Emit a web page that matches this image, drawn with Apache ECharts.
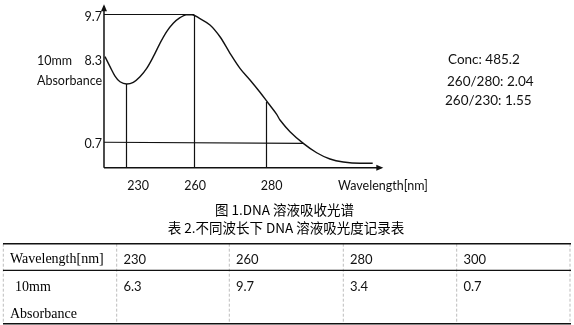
<!DOCTYPE html>
<html>
<head>
<meta charset="utf-8">
<script src="https://cdn.jsdelivr.net/npm/echarts@6/dist/echarts.min.js"></script>
<style>
  html, body { margin: 0; padding: 0; background: #fff; }
  #chart { width: 574px; height: 325px; }
</style>
</head>
<body>
<div id="chart"></div>
<script>
// ---- Sketch curve (schematic spectrum, horizontal position 0-100 along sketch axis, vertical in absorbance-like units)
const curveX = [0.36, 2.18, 3.99, 5.80, 8.23, 10.62, 13.05, 15.48, 17.88, 20.30, 22.73, 25.11, 27.56, 29.73, 31.91, 34.22, 38.43, 42.06, 45.69, 49.31, 52.94, 56.56, 59.57, 62.62, 63.81, 67.44, 72.26, 77.12, 81.94, 86.77, 92.82, 97.43];
const curveY = [6.75, 6.05, 5.39, 4.99, 4.83, 4.95, 5.34, 5.93, 6.75, 7.69, 8.51, 9.10, 9.49, 9.69, 9.70, 9.49, 8.98, 8.15, 6.99, 5.93, 5.11, 4.25, 3.48, 2.70, 2.30, 1.48, 0.66, 0.00, -0.44, -0.65, -0.74, -0.74];

// ---- Value ranges of the sketch area and of its drawn axes
const xRange = [-2, 102];
const yRange = [-1.3, 10.6];
const axisOrigin = [0, -1.05];
const axisLineEnd = [100.5, 10.3];
const arrowCenter = [100.0, 10.19];

// ---- Drop lines (marked wavelengths on the sketch)
const dropLabels = ['230', '260', '280'];
const dropX = [7.98, 32.63, 59.0];
const dropTop = [4.83, 9.70, 3.59];

// ---- Level lines (9.7 and 0.7)
const levelStartX = [0, 0];
const levelEndX = [32.63, 72.3];
const levelStartY = [9.70, 0.74];
const levelEndY = [9.70, 0.66];

// ---- Axis tick labels on the sketch
const xTickPos = [12.4, 33.0, 60.8];
const xTickText = ['230', '260', '280'];
const yTickPos = [9.56, 6.45, 0.62];
const yTickText = ['9.7', '8.3', '0.7'];

// ---- Side notes
const notes = ['Conc: 485.2', '260/280: 2.04', '260/230: 1.55'];

// ---- Captions
const caption1 = '图 1.DNA 溶液吸收光谱';
const caption2 = '表 2.不同波长下 DNA 溶液吸光度记录表';

// ---- Table data
const tableWavelengths = [230, 260, 280, 300];
const tableAbsorbance = [6.3, 9.7, 3.4, 0.7];
const tableRowHeaders = ['Wavelength[nm]', '10mm', 'Absorbance'];

const chart = echarts.init(document.getElementById('chart'), null, { renderer: 'canvas' });

const curveData = curveX.map((x, i) => [x, curveY[i]]);
const guideLines = [];
dropX.forEach((x, i) => guideLines.push({ coords: [[x, axisOrigin[1]], [x, dropTop[i]]] }));
levelStartX.forEach((x, i) => guideLines.push({ coords: [[x, levelStartY[i]], [levelEndX[i], levelEndY[i]]] }));

const sans = 'Lato, "Open Sans", sans-serif';
const serif = '"Liberation Serif", "DejaVu Serif", serif';
const cjk = '"Noto Sans CJK SC", "Noto Sans", sans-serif';

const graphics = [];
function txt(text, x, y, font, size, align, color) {
  graphics.push({
    type: 'text', x: x, y: y, silent: true,
    style: { text: text, fill: color || '#111', font: size + 'px ' + font, textAlign: align || 'left', textVerticalAlign: 'middle' }
  });
}
function line(x1, y1, x2, y2, color, w, dash) {
  graphics.push({
    type: 'line', silent: true,
    shape: { x1: x1, y1: y1, x2: x2, y2: y2 },
    style: { stroke: color, lineWidth: w, lineDash: dash || null }
  });
}

// y-axis name and x-axis name
txt('10mm', 37, 61, sans, 12.5);
txt('Absorbance', 37, 81, sans, 12.5);
txt('Wavelength[nm]', 338, 186, sans, 12.5);
// notes
const noteX = [448, 447, 445];
const noteY = [60, 81.5, 101];
notes.forEach((n, i) => txt(n, noteX[i], noteY[i], sans, 13.5));
// captions
txt(caption1, 284.5, 210, cjk, 13.5, 'center', '#000');
txt(caption2, 286, 228, cjk, 13.5, 'center', '#000');

// table
const colX = [3.3, 116.7, 229.3, 343.3, 456.7, 570];
const tTop = 243.7, tMid = 270.3, tBot = 323.7;
colX.forEach(x => line(x, tTop, x, tBot, '#bdbdbd', 1, [3, 2]));
line(3, tTop, 571, tTop, '#111', 1.5);
line(3, tMid, 571, tMid, '#111', 1.2);
line(3, tBot, 571, tBot, '#111', 1.5);
txt(tableRowHeaders[0], 10, 259.5, serif, 14, 'left', '#000');
txt(tableRowHeaders[1], 15, 287, serif, 14, 'left', '#000');
txt(tableRowHeaders[2], 10, 314, serif, 14, 'left', '#000');
tableWavelengths.forEach((w, i) => {
  txt(String(w), colX[i + 1] + 6.7, 259.5, sans, 13, 'left', '#111');
  txt(tableAbsorbance[i].toFixed(1), colX[i + 1] + 6.7, 287, sans, 13, 'left', '#111');
});

const option = {
  animation: false,
  backgroundColor: '#fff',
  grid: { show: false, left: 98.48, top: 1.89, width: 286.83, height: 169.37 },
  xAxis: {
    type: 'value', min: xRange[0], max: xRange[1], position: 'bottom',
    axisLine: { show: false, onZero: false },
    axisTick: { show: false },
    splitLine: { show: false },
    axisLabel: {
      customValues: xTickPos,
      formatter: v => xTickText[xTickPos.indexOf(v)] || '',
      margin: 8.5, color: '#111', fontSize: 12.5, fontFamily: sans
    }
  },
  yAxis: {
    type: 'value', min: yRange[0], max: yRange[1], position: 'left',
    axisLine: { show: false, onZero: false },
    axisTick: { show: false },
    splitLine: { show: false },
    axisLabel: {
      customValues: yTickPos,
      formatter: v => yTickText[yTickPos.indexOf(v)] || '',
      margin: -3.5, color: '#111', fontSize: 12.5, fontFamily: sans
    }
  },
  series: [
    {
      type: 'line', data: curveData, smooth: 0.35, symbol: 'none',
      lineStyle: { color: '#111', width: 1.4 }, silent: true, z: 3
    },
    {
      type: 'lines', coordinateSystem: 'cartesian2d', data: guideLines,
      lineStyle: { color: '#111', width: 1.2, opacity: 1 }, silent: true, z: 2
    },
    {
      type: 'line', data: [[axisOrigin[0], axisOrigin[1]], [axisLineEnd[0], axisOrigin[1]]],
      symbol: 'none', clip: false, lineStyle: { color: '#111', width: 1.5 }, silent: true, z: 4
    },
    {
      type: 'line', data: [[axisOrigin[0], axisOrigin[1]], [axisOrigin[0], axisLineEnd[1]]],
      symbol: 'none', clip: false, lineStyle: { color: '#111', width: 1.5 }, silent: true, z: 4
    },
    {
      type: 'scatter', symbol: 'triangle', symbolSize: [6, 7], symbolRotate: -90, clip: false,
      data: [[arrowCenter[0], axisOrigin[1]]], itemStyle: { color: '#111', opacity: 1 }, silent: true, z: 5
    },
    {
      type: 'scatter', symbol: 'triangle', symbolSize: [6, 7], symbolRotate: 0, clip: false,
      data: [[axisOrigin[0], arrowCenter[1]]], itemStyle: { color: '#111', opacity: 1 }, silent: true, z: 5
    }
  ],
  graphic: graphics
};
chart.setOption(option);
</script>
</body>
</html>
